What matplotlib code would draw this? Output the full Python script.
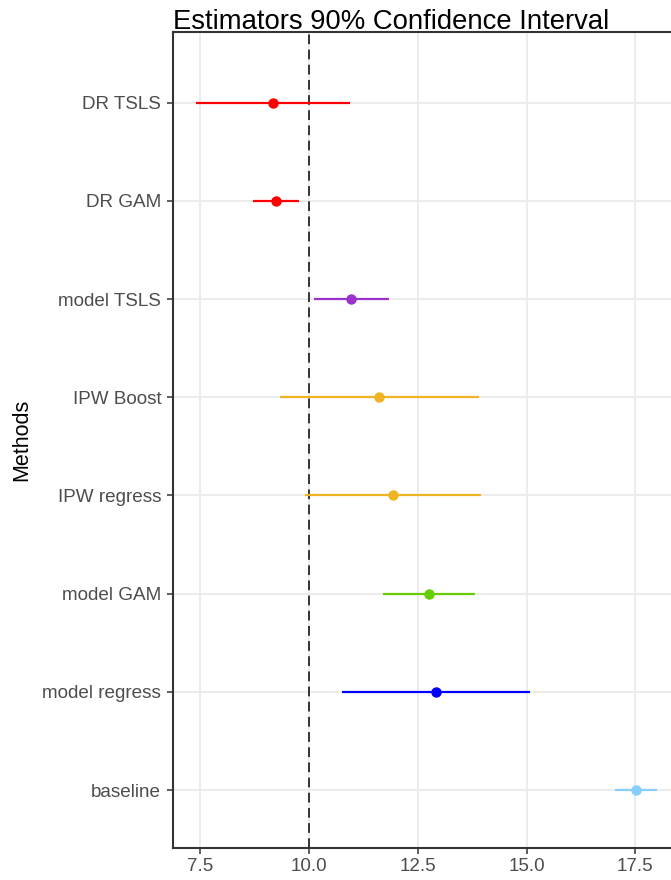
import matplotlib.pyplot as plt
import numpy as np

plt.rcParams['font.family'] = ['Liberation Sans', 'DejaVu Sans']

methods = ["baseline", "model regress", "model GAM", "IPW regress",
           "IPW Boost", "model TSLS", "DR GAM", "DR TSLS"]
estimate = [17.52, 12.91, 12.76, 11.92, 11.61, 10.96, 9.24, 9.17]
lower = [17.04, 10.76, 11.71, 9.91, 9.32, 10.12, 8.72, 7.41]
upper = [18.01, 15.09, 13.82, 13.95, 13.90, 11.83, 9.77, 10.93]
colors = ["#87CEFA", "#0000FF", "#66CD00", "#F0B323",
          "#F0B323", "#9A32CD", "#FF0000", "#FF0000"]
true_value = 10.0
xticks = [7.5, 10.0, 12.5, 15.0, 17.5]

fig = plt.figure(figsize=(6.71, 8.8), dpi=100)
ax = fig.add_axes([173/671, 32/880, (680-173)/671, (848-32)/880])

y = np.arange(1, len(methods) + 1)

# grid
for t in xticks:
    ax.axvline(t, color="#EBEBEB", lw=1.3, zorder=0)
for yy in y:
    ax.axhline(yy, color="#EBEBEB", lw=1.3, zorder=0)

ax.axvline(true_value, color="#333333", lw=1.4, ls=(0, (5, 2.8)), zorder=1)

for yy, est, lo, hi, c in zip(y, estimate, lower, upper, colors):
    ax.plot([lo, hi], [yy, yy], color=c, lw=1.6, solid_capstyle="butt", zorder=2)
    ax.plot(est, yy, "o", color=c, ms=7.5, mec="none", zorder=3)

ax.set_xlim(6.87, 18.53)
ax.set_ylim(0.41, 8.72)
ax.set_xticks(xticks)
ax.set_xticklabels([f"{t:.1f}" for t in xticks])
ax.set_yticks(y)
ax.set_yticklabels(methods)

ax.tick_params(axis="x", labelsize=13.5, colors="#333333", labelcolor="#4D4D4D",
               length=4, width=1.1, pad=3)
ax.tick_params(axis="y", labelsize=13.6, colors="#333333", labelcolor="#4D4D4D",
               length=4.5, width=1.1, pad=4)

for side in ["left", "bottom", "top"]:
    ax.spines[side].set_color("#333333")
    ax.spines[side].set_linewidth(1.5)
ax.spines["right"].set_visible(False)

ax.set_ylabel("Methods", fontsize=15.5)
ax.yaxis.set_label_coords(-(173 - 32) / (680 - 173), 0.5)
fig.text(173/671, 1 - 29/880, "Estimators 90% Confidence Interval",
         fontsize=19.8, ha="left", va="baseline")

fig.savefig("out.png", dpi=100)
